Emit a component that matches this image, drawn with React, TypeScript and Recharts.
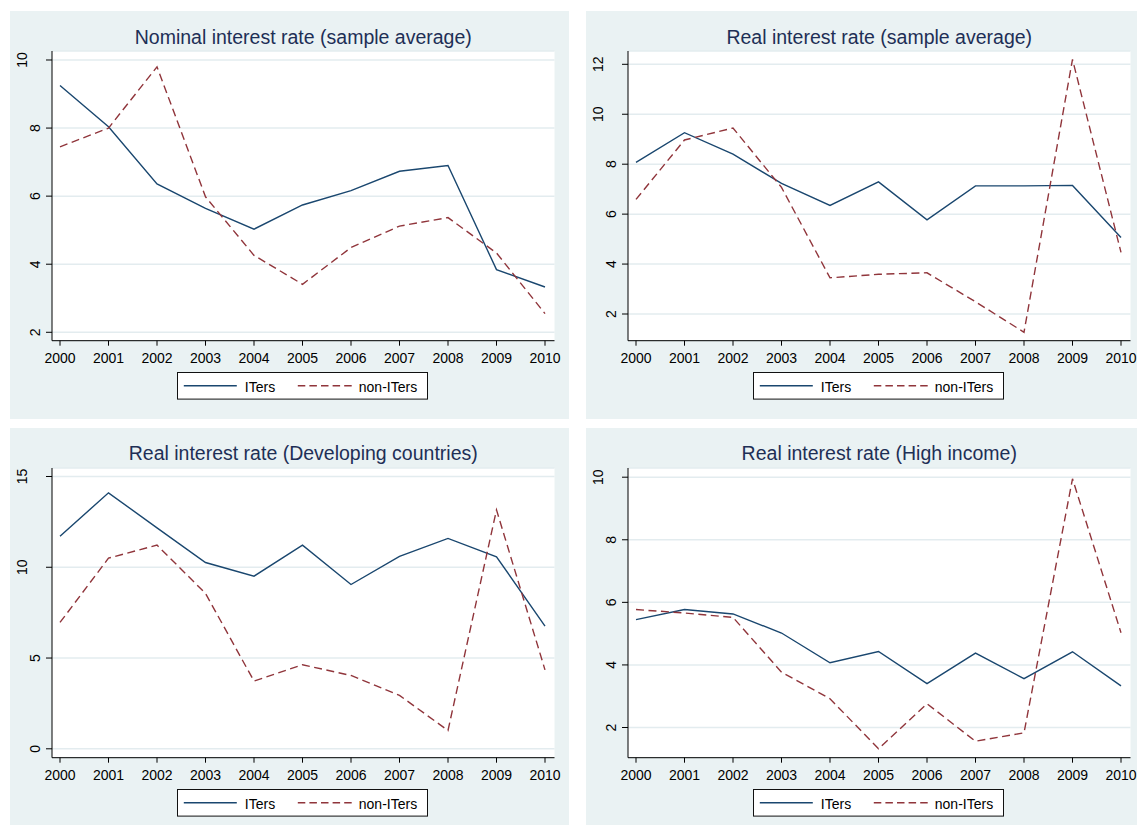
import React from "react";
import { LineChart, Line, XAxis, YAxis, CartesianGrid } from "recharts";

const years = [2000, 2001, 2002, 2003, 2004, 2005, 2006, 2007, 2008, 2009, 2010];

// Nominal interest rate (sample average)
const nominalITers = [9.25, 8.04, 6.36, 5.64, 5.03, 5.74, 6.16, 6.73, 6.9, 3.84, 3.33];
const nominalNonITers = [7.45, 8.0, 9.8, 5.98, 4.26, 3.41, 4.49, 5.12, 5.37, 4.33, 2.55];

// Real interest rate (sample average)
const realITers = [8.07, 9.26, 8.4, 7.23, 6.35, 7.29, 5.77, 7.13, 7.13, 7.15, 5.06];
const realNonITers = [6.59, 8.97, 9.45, 7.07, 3.45, 3.59, 3.65, 2.49, 1.27, 12.2, 4.47];

// Real interest rate (Developing countries)
const devITers = [11.71, 14.1, 12.17, 10.26, 9.51, 11.22, 9.05, 10.6, 11.59, 10.58, 6.76];
const devNonITers = [6.96, 10.5, 11.22, 8.56, 3.73, 4.63, 4.04, 2.94, 1.01, 13.16, 4.35];

// Real interest rate (High income)
const highITers = [5.45, 5.77, 5.63, 5.02, 4.07, 4.43, 3.4, 4.38, 3.56, 4.42, 3.33];
const highNonITers = [5.77, 5.66, 5.52, 3.77, 2.92, 1.32, 2.76, 1.56, 1.83, 9.95, 5.03];

const NAVY = "#1A476F";
const MAROON = "#90353B";
const BG = "#EAF2F3";
const FONT = "'Liberation Sans', Arial, sans-serif";

const W = 559;
const H = 408;
const PLOT_TOP = 40;
const PLOT_BOTTOM = 329.7;
const Y_AXIS_W = 42;
const RIGHT = 14.5;

const build = (a: number[], b: number[]) =>
  years.map((year, i) => ({ year, iters: a[i], non: b[i] }));

const panels = [
  {
    title: "Nominal interest rate (sample average)",
    left: 10,
    top: 11,
    data: build(nominalITers, nominalNonITers),
    yTicks: [2, 4, 6, 8, 10],
    yDomain: [1.753, 10.264],
  },
  {
    title: "Real interest rate (sample average)",
    left: 586,
    top: 11,
    data: build(realITers, realNonITers),
    yTicks: [2, 4, 6, 8, 10, 12],
    yDomain: [0.931, 12.533],
  },
  {
    title: "Real interest rate (Developing countries)",
    left: 10,
    top: 427.5,
    data: build(devITers, devNonITers),
    yTicks: [0, 5, 10, 15],
    yDomain: [-0.49, 15.468],
  },
  {
    title: "Real interest rate (High income)",
    left: 586,
    top: 427.5,
    data: build(highITers, highNonITers),
    yTicks: [2, 4, 6, 8, 10],
    yDomain: [1.035, 10.294],
  },
];

const XTick = (props: any) => {
  const { x, y, payload } = props;
  return (
    <text x={x} y={y + 17.6} textAnchor="middle" fontSize={14} fontFamily={FONT} fill="#000">
      {payload.value}
    </text>
  );
};

const YTick = (props: any) => {
  const { x, y, payload } = props;
  const label = String(payload.value);
  const axisX = x + 6;
  const cx = axisX - (3.9 + 12.8 * label.length);
  const bx = cx + 5;
  return (
    <text
      x={bx}
      y={y}
      transform={`rotate(-90 ${bx} ${y})`}
      textAnchor="middle"
      fontSize={14}
      fontFamily={FONT}
      fill="#000"
    >
      {label}
    </text>
  );
};

function LegendBox() {
  return (
    <svg
      width={252}
      height={29}
      style={{ position: "absolute", left: 167.2, top: 361.2, overflow: "visible" }}
    >
      <rect x={0.5} y={0.5} width={250} height={26.6} fill="#fff" stroke="#111" strokeWidth={1} />
      <line x1={6.8} x2={59.8} y1={13.8} y2={13.8} stroke={NAVY} strokeWidth={1.4} />
      <text x={67.8} y={19.5} fontSize={14} fontFamily={FONT} fill="#000">
        ITers
      </text>
      <line
        x1={120.8}
        x2={174.8}
        y1={13.8}
        y2={13.8}
        stroke={MAROON}
        strokeWidth={1.4}
        strokeDasharray="7.5 4.1"
      />
      <text x={181.8} y={19.5} fontSize={14} fontFamily={FONT} fill="#000">
        non-ITers
      </text>
    </svg>
  );
}

function Panel({ p }: { p: (typeof panels)[number] }) {
  const plotCenter = (Y_AXIS_W + (W - RIGHT)) / 2;
  return (
    <div
      style={{
        position: "absolute",
        left: p.left,
        top: p.top,
        width: W,
        height: H,
        background: BG,
      }}
    >
      <div
        style={{
          position: "absolute",
          left: plotCenter - 250,
          width: 500,
          top: 16.5,
          textAlign: "center",
          fontFamily: FONT,
          fontSize: 19.5,
          lineHeight: "19.5px",
          color: "#1E2F56",
          whiteSpace: "nowrap",
        }}
      >
        {p.title}
      </div>
      <div style={{ position: "absolute", left: 0, top: 0 }}>
        <LineChart
          width={W}
          height={H}
          data={p.data}
          margin={{ top: PLOT_TOP, right: RIGHT, left: 0, bottom: 0 }}
        >
          <CartesianGrid vertical={false} fill="#fff" stroke="#E3ECEF" strokeWidth={1.5} />
          <XAxis
            dataKey="year"
            type="number"
            domain={[2000, 2010]}
            ticks={years}
            interval={0}
            padding={{ left: 8, right: 9.5 }}
            height={H - PLOT_BOTTOM}
            tickSize={5}
            tickMargin={0}
            axisLine={{ stroke: "#000" }}
            tickLine={{ stroke: "#000" }}
            tick={<XTick />}
          />
          <YAxis
            type="number"
            domain={p.yDomain}
            ticks={p.yTicks}
            allowDataOverflow
            interval={0}
            width={Y_AXIS_W}
            tickSize={6}
            tickMargin={0}
            axisLine={{ stroke: "#000" }}
            tickLine={{ stroke: "#000" }}
            tick={<YTick />}
          />
          <Line
            type="linear"
            dataKey="iters"
            stroke={NAVY}
            strokeWidth={1.4}
            dot={false}
            isAnimationActive={false}
          />
          <Line
            type="linear"
            dataKey="non"
            stroke={MAROON}
            strokeWidth={1.4}
            strokeDasharray="8 4.5"
            dot={false}
            isAnimationActive={false}
          />
        </LineChart>
      </div>
      <LegendBox />
    </div>
  );
}

export default function App() {
  return (
    <div
      style={{
        position: "absolute",
        left: 0,
        top: 0,
        width: 1137,
        height: 825,
        background: "#fff",
        overflow: "hidden",
      }}
    >
      {panels.map((p) => (
        <Panel key={p.title} p={p} />
      ))}
    </div>
  );
}
